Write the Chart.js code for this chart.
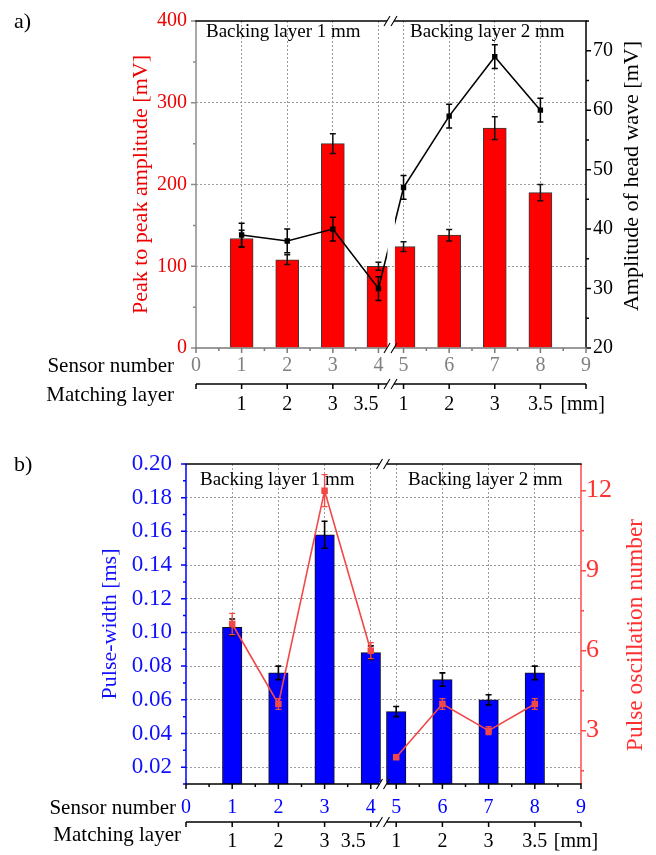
<!DOCTYPE html>
<html><head><meta charset="utf-8">
<script src="https://cdn.jsdelivr.net/npm/chart.js@4.4.1/dist/chart.umd.min.js"></script>
<style>
html,body{margin:0;padding:0;background:#fff;}
#wrap{position:relative;width:656px;height:855px;overflow:hidden;}
canvas{position:absolute;left:0;}
#ca{top:0;} #cb{top:430px;}
</style></head><body>
<div id="wrap"><canvas id="ca" width="656" height="430"></canvas><canvas id="cb" width="656" height="425"></canvas></div>
<script>
// ---------- data ----------
const sensors = [1, 2, 3, 4, 5, 6, 7, 8];
const sensorTicks = [0, 1, 2, 3, 4, 5, 6, 7, 8, 9];
const sensorMinorTicks = [0.5, 1.5, 2.5, 3.5, 5.5, 6.5, 7.5, 8.5];
const matchingLabels = ['1', '2', '3', '3.5', '1', '2', '3', '3.5'];
const backingLabels = ['Backing layer 1 mm', 'Backing layer 2 mm'];

// panel a
const peakAmp    = [134, 108, 250, 100, 124, 138, 269, 190];
const peakAmpErr = [10, 6, 12, 5, 6, 7, 14, 10];
const headWave    = [39, 38, 40, 30, 47, 59, 69, 60];
const headWaveErr = [2, 2, 2, 2, 2, 2, 2, 2];
const ampTicks = [0, 100, 200, 300, 400];
const ampMinor = [50, 150, 250, 350];
const headTicks = [20, 30, 40, 50, 60, 70];
const headMinor = [25, 35, 45, 55, 65, 75];

// panel b
const pulseWidth    = [0.103, 0.076, 0.158, 0.088, 0.053, 0.072, 0.060, 0.076];
const pulseWidthErr = [0.005, 0.004, 0.008, 0.004, 0.003, 0.004, 0.003, 0.004];
const oscNumber    = [7, 4, 12, 6, 2, 4, 3, 4];
const oscNumberErr = [0.4, 0.2, 0.6, 0.3, 0, 0.2, 0.15, 0.2];
const widthTicks = [0.02, 0.04, 0.06, 0.08, 0.10, 0.12, 0.14, 0.16, 0.18, 0.20];
const widthMinor = [0.01, 0.03, 0.05, 0.07, 0.09, 0.11, 0.13, 0.15, 0.17, 0.19];
const oscTicks = [3, 6, 9, 12];
const oscMinor = [1.5, 4.5, 7.5, 10.5];

// broken x axis: sensors after the break are shifted left
const BREAK_SHIFT = 0.45;
const P = s => (s > 4.5 ? s - BREAK_SHIFT : s);

const SERIF = "'Liberation Serif', 'Times New Roman', serif";

// ---------- plugin: frame, error bars, annotations ----------
function drawBreak(ctx, x, y) {
  ctx.save();
  ctx.fillStyle = '#fff';
  ctx.fillRect(x - 4, y - 2, 7, 4);
  ctx.strokeStyle = '#000';
  ctx.lineWidth = 1.1;
  ctx.beginPath();
  ctx.moveTo(x - 7, y + 5); ctx.lineTo(x - 1, y - 5);
  ctx.moveTo(x, y + 5); ctx.lineTo(x + 6, y - 5);
  ctx.stroke();
  ctx.restore();
}
function seg(ctx, x1, y1, x2, y2) { ctx.moveTo(x1, y1); ctx.lineTo(x2, y2); }

const framePlugin = {
  id: 'frame',
  beforeDatasetsDraw(chart, args, o) {
    const ctx = chart.ctx, a = chart.chartArea, xs = chart.scales.x;
    ctx.save();
    ctx.fillStyle = '#000';
    ctx.font = '19px ' + SERIF;
    ctx.textBaseline = 'middle';
    ctx.textAlign = 'left';
    ctx.fillText(backingLabels[0], o.back1[0], o.back1[1]);
    ctx.fillText(backingLabels[1], o.back2[0], o.back2[1]);
    ctx.restore();
    // gap at the axis break
    const x4 = xs.getPixelForValue(P(4));
    const g0 = x4 + o.gap[0], g1 = x4 + o.gap[1];
    ctx.save();
    ctx.beginPath();
    ctx.rect(a.left - 5, a.top - 20, g0 - a.left + 5, a.bottom - a.top + 40);
    ctx.rect(g1, a.top - 20, a.right - g1 + 5, a.bottom - a.top + 40);
    ctx.clip();
  },
  afterDatasetDraw(chart, args) {
    const ds = chart.data.datasets[args.index];
    if (!ds.errors) return;
    const meta = args.meta, ys = chart.scales[meta.yAxisID], ctx = chart.ctx;
    const cap = ds.errorCap || 3;
    ctx.save();
    ctx.strokeStyle = ds.errorColor;
    ctx.lineWidth = ds.errorWidth || 1.5;
    ctx.beginPath();
    meta.data.forEach((el, i) => {
      const e = ds.errors[i];
      if (!e) return;
      const v = ds.data[i].y, x = el.x;
      const y1 = ys.getPixelForValue(v + e), y2 = ys.getPixelForValue(v - e);
      seg(ctx, x, y1, x, y2);
      seg(ctx, x - cap, y1, x + cap, y1);
      seg(ctx, x - cap, y2, x + cap, y2);
    });
    ctx.stroke();
    ctx.restore();
  },
  afterDatasetsDraw(chart) {
    chart.ctx.restore();
  },
  afterDraw(chart, args, o) {
    const ctx = chart.ctx, a = chart.chartArea, xs = chart.scales.x, yl = chart.scales.y, yr = chart.scales.y2;
    const bx = (xs.getPixelForValue(P(4)) + xs.getPixelForValue(P(5))) / 2;
    ctx.save();
    ctx.lineWidth = 1.5;
    // left axis
    ctx.strokeStyle = o.colLeft; ctx.beginPath();
    seg(ctx, a.left, a.top, a.left, a.bottom);
    o.leftMajor.forEach(v => { const y = yl.getPixelForValue(v); seg(ctx, a.left - 5, y, a.left, y); });
    o.leftMinor.forEach(v => { const y = yl.getPixelForValue(v); seg(ctx, a.left - 3, y, a.left, y); });
    ctx.stroke();
    // right axis
    ctx.strokeStyle = o.colRight; ctx.beginPath();
    seg(ctx, a.right, a.top, a.right, a.bottom);
    o.rightMajor.forEach(v => { const y = yr.getPixelForValue(v); seg(ctx, a.right, y, a.right + 5, y); });
    o.rightMinor.forEach(v => { const y = yr.getPixelForValue(v); if (y >= a.top - 1) seg(ctx, a.right, y, a.right + 3, y); });
    ctx.stroke();
    // top axis
    ctx.strokeStyle = '#000'; ctx.beginPath();
    seg(ctx, a.left - 0.75, a.top, a.right + 0.75, a.top);
    ctx.stroke();
    // bottom axis
    ctx.strokeStyle = o.colBottom; ctx.beginPath();
    seg(ctx, a.left - 0.75, a.bottom, a.right + 0.75, a.bottom);
    sensorTicks.forEach(s => { const x = xs.getPixelForValue(P(s)); seg(ctx, x, a.bottom, x, a.bottom + 5); });
    sensorMinorTicks.forEach(s => { const x = xs.getPixelForValue(P(s)); seg(ctx, x, a.bottom, x, a.bottom + 3); });
    ctx.stroke();
    // matching-layer axis
    const my = a.bottom + o.matchY;
    ctx.strokeStyle = '#000'; ctx.beginPath();
    seg(ctx, a.left, my, a.right, my);
    sensorTicks.forEach(s => { const x = xs.getPixelForValue(P(s)); seg(ctx, x, my, x, my + 5); });
    ctx.stroke();
    ctx.restore();
    drawBreak(ctx, bx, a.top);
    drawBreak(ctx, bx, a.bottom);
    drawBreak(ctx, bx, my);
    // texts
    ctx.save();
    ctx.fillStyle = '#000';
    ctx.textBaseline = 'middle';
    ctx.font = '20px ' + SERIF;
    sensors.forEach((s, i) => {
      const x = xs.getPixelForValue(P(s));
      if (i === 3) { ctx.textAlign = 'right'; ctx.fillText(matchingLabels[i], x + o.shift35, o.matchTextY); }
      else { ctx.textAlign = 'center'; ctx.fillText(matchingLabels[i], x, o.matchTextY); }
    });
    ctx.textAlign = 'left';
    ctx.fillText('[mm]', xs.getPixelForValue(P(8)) + o.mmDx, o.matchTextY);
    ctx.font = '21px ' + SERIF;
    ctx.textAlign = 'right';
    ctx.fillText('Sensor number', o.sensorLbl[0], o.sensorLbl[1]);
    ctx.fillText('Matching layer', o.matchLbl[0], o.matchLbl[1]);
    ctx.font = '22px ' + SERIF;
    ctx.textAlign = 'left';
    ctx.fillText(o.panel, 14, o.panelY);
    // right axis title, reading bottom-to-top
    ctx.translate(o.rTitle[0], o.rTitle[1]);
    ctx.rotate(-Math.PI / 2);
    ctx.textAlign = 'center';
    ctx.font = o.rTitleSize + 'px ' + SERIF;
    ctx.fillStyle = o.rTitleColor;
    ctx.fillText(o.rTitleText, 0, 0);
    ctx.restore();
  }
};

function fixedBox(w) { return s => { s.width = w; }; }
function fixedH(h) { return s => { s.height = h; }; }

function xScale(color, pad, height) {
  return {
    type: 'linear', min: 0, max: P(9), offset: false,
    afterFit: fixedH(height),
    afterBuildTicks: s => { s.ticks = sensorTicks.map(v => ({ value: P(v) })); },
    ticks: { autoSkip: false, maxRotation: 0, padding: pad, color: color,
      font: { family: SERIF, size: 20 },
      callback: (v, i) => String(sensorTicks[i]) },
    grid: { offset: false, drawTicks: false, color: c => (c.index === 0 || c.index === sensorTicks.length - 1) ? 'rgba(0,0,0,0)' : '#9a9a9a', lineWidth: 1 },
    border: { display: false, dash: [2, 2] }
  };
}
function yScale(opts) {
  return {
    type: 'linear', position: opts.position, min: opts.min, max: opts.max,
    afterFit: fixedBox(opts.width),
    afterBuildTicks: s => { s.ticks = opts.ticks.map(v => ({ value: v })); },
    ticks: { padding: opts.pad, color: opts.color, font: { family: SERIF, size: opts.tickSize },
      callback: opts.fmt },
    grid: { display: opts.grid, drawTicks: false, lineWidth: 1,
      color: c => (c.tick && (c.tick.value <= opts.min + 1e-9 || c.tick.value >= opts.max - 1e-9)) ? 'rgba(0,0,0,0)' : '#9a9a9a' },
    border: { display: false, dash: [2, 2] },
    title: { display: !!opts.title, text: opts.title || '', color: opts.color, padding: 0,
      font: { family: SERIF, size: opts.titleSize || 22 } }
  };
}

// ---------- chart a ----------
new Chart(document.getElementById('ca'), {
  type: 'bar',
  data: { datasets: [
    { type: 'bar', label: 'Peak to peak amplitude', data: sensors.map((s, i) => ({ x: P(s), y: peakAmp[i] })),
      backgroundColor: '#ff0000', borderColor: '#3a3a3a', borderWidth: 1, barThickness: 23,
      xAxisID: 'x', yAxisID: 'y', order: 2,
      errors: peakAmpErr, errorColor: '#111', errorWidth: 1.5, errorCap: 3 },
    { type: 'line', label: 'Amplitude of head wave', data: sensors.map((s, i) => ({ x: P(s), y: headWave[i] })),
      borderColor: '#000', borderWidth: 1.6, tension: 0, pointStyle: 'rect', pointRadius: 3.8,
      pointBackgroundColor: '#000', pointBorderColor: '#000', pointBorderWidth: 0,
      xAxisID: 'x', yAxisID: 'y2', order: 1,
      errors: headWaveErr, errorColor: '#000', errorWidth: 1.5, errorCap: 3 }
  ] },
  options: {
    responsive: false, animation: false, devicePixelRatio: 1,
    layout: { padding: { left: 127.8, right: 0, top: 18, bottom: 0 } },
    plugins: { legend: { display: false }, tooltip: { enabled: false },
      frame: { colLeft: '#8c8c8c', colRight: '#000', colBottom: '#7a7a7a',
        leftMajor: ampTicks, leftMinor: ampMinor, rightMajor: headTicks, rightMinor: headMinor,
        gap: [9, 16.5], matchY: 36, matchTextY: 405, shift35: 0, mmDx: 20,
        sensorLbl: [174, 366], matchLbl: [174, 395], panel: 'a)', panelY: 22,
        back1: [206, 32], back2: [410, 32],
        rTitle: [632, 176], rTitleSize: 22, rTitleColor: '#000', rTitleText: 'Amplitude of head wave [mV]' } },
    scales: {
      x: xScale('#808080', 6, 82),
      y: yScale({ position: 'left', min: 0, max: 400, ticks: ampTicks, width: 68.2, pad: 9, color: '#ee0000', tickSize: 20,
        grid: true, title: 'Peak to peak amplitude [mV]', titleSize: 22, fmt: v => String(v) }),
      y2: yScale({ position: 'right', min: 20, max: 75, ticks: headTicks, width: 70, pad: 7, color: '#000', tickSize: 20,
        grid: false, fmt: v => String(v) })
    }
  },
  plugins: [framePlugin]
});

// ---------- chart b ----------
new Chart(document.getElementById('cb'), {
  type: 'bar',
  data: { datasets: [
    { type: 'bar', label: 'Pulse-width', data: sensors.map((s, i) => ({ x: P(s), y: pulseWidth[i] })),
      backgroundColor: '#0000ff', borderColor: '#111', borderWidth: 1, barThickness: 19.5,
      xAxisID: 'x', yAxisID: 'y', order: 2,
      errors: pulseWidthErr, errorColor: '#000', errorWidth: 1.6, errorCap: 3 },
    { type: 'line', label: 'Pulse oscillation number', data: sensors.map((s, i) => ({ x: P(s), y: oscNumber[i] })),
      borderColor: '#f24848', borderWidth: 1.6, tension: 0, pointStyle: 'rect', pointRadius: 4.6,
      pointBackgroundColor: '#f24848', pointBorderColor: '#f24848', pointBorderWidth: 0,
      segment: { borderColor: c => (c.p0DataIndex === 3 ? 'rgba(0,0,0,0)' : undefined) },
      xAxisID: 'x', yAxisID: 'y2', order: 1,
      errors: oscNumberErr, errorColor: '#f24848', errorWidth: 1.4, errorCap: 3 }
  ] },
  options: {
    responsive: false, animation: false, devicePixelRatio: 1,
    layout: { padding: { left: 96.8, right: 0, top: 34, bottom: 0 } },
    plugins: { legend: { display: false }, tooltip: { enabled: false },
      frame: { colLeft: '#0000ff', colRight: '#ff4a4a', colBottom: '#000',
        leftMajor: widthTicks, leftMinor: widthMinor, rightMajor: oscTicks, rightMinor: oscMinor,
        gap: [11, 14], matchY: 38, matchTextY: 412, shift35: -5, mmDx: 19,
        sensorLbl: [176, 378], matchLbl: [181, 405], panel: 'b)', panelY: 35,
        back1: [200, 50], back2: [408, 50],
        rTitle: [636, 205], rTitleSize: 23.5, rTitleColor: '#ff3030', rTitleText: 'Pulse oscillation number' } },
    scales: {
      x: xScale('#0000ff', 12, 71),
      y: yScale({ position: 'left', min: 0.01, max: 0.20, ticks: widthTicks, width: 89.2, pad: 14, color: '#1010ff', tickSize: 23,
        grid: true, title: 'Pulse-width [ms]', titleSize: 22, fmt: v => v.toFixed(2) }),
      y2: yScale({ position: 'right', min: 1, max: 13, ticks: oscTicks, width: 75, pad: 5, color: '#ff3030', tickSize: 26,
        grid: false, fmt: v => String(v) })
    }
  },
  plugins: [framePlugin]
});
</script>
</body></html>
